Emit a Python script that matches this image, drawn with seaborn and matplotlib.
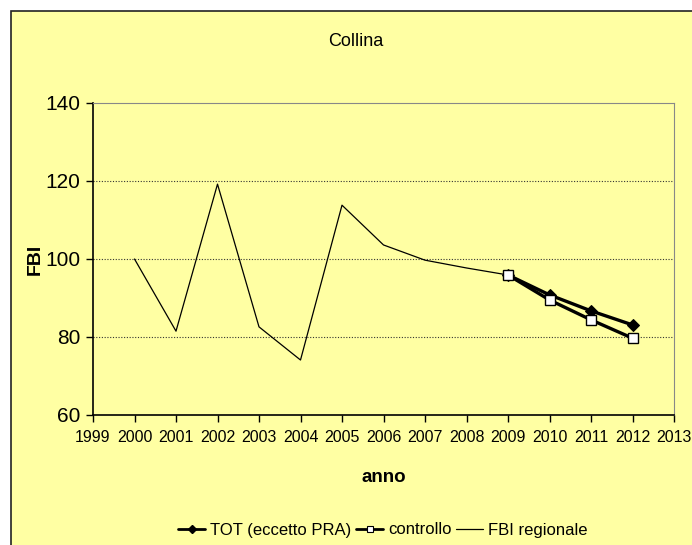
import numpy as np
import pandas as pd
import matplotlib
matplotlib.use('Agg')
import matplotlib.pyplot as plt
import seaborn as sns
from matplotlib.patches import Rectangle
from matplotlib.lines import Line2D
from matplotlib import font_manager

# data
anni_fbi = [2000, 2001, 2002, 2003, 2004, 2005, 2006, 2007, 2008, 2009]
fbi_regionale = [100.0, 81.5, 119.2, 82.6, 74.1, 113.8, 103.6, 99.7, 97.7, 95.9]
anni_tot = [2009, 2010, 2011, 2012]
tot_eccetto_pra = [95.9, 90.8, 86.7, 83.1]
controllo = [95.9, 89.5, 84.4, 79.7]
x_ticks = list(range(1999, 2014))
y_ticks = [60, 80, 100, 120, 140]

sns.set_style('white')
names = {f.name for f in font_manager.fontManager.ttflist}
narrow = 'Liberation Sans Narrow' if 'Liberation Sans Narrow' in names else 'Liberation Sans'
plt.rcParams['font.family'] = [narrow, 'DejaVu Sans']
plt.rcParams['text.color'] = 'black'
plt.rcParams['axes.labelcolor'] = 'black'
plt.rcParams['xtick.color'] = 'black'
plt.rcParams['ytick.color'] = 'black'

bg = '#ffffa3'
fig = plt.figure(figsize=(6.92, 5.45), dpi=100)
fig.patch.set_facecolor('white')
# yellow chart area with dark border, cut at right/bottom like the reference
frame = Rectangle((11 / 692, -0.05), 1.1, 1 - 11 / 545 + 0.05,
                  transform=fig.transFigure, facecolor=bg,
                  edgecolor='#222222', linewidth=1.2, zorder=-10)
fig.add_artist(frame)

ax = fig.add_axes([93 / 692, 1 - 415 / 545, 581 / 692, 312 / 545])
ax.set_zorder(5)
ax.set_facecolor(bg)

df_fbi = pd.DataFrame({'anno': anni_fbi, 'FBI': fbi_regionale})
df_tot = pd.DataFrame({'anno': anni_tot, 'FBI': tot_eccetto_pra})
df_con = pd.DataFrame({'anno': anni_tot, 'FBI': controllo})

sns.lineplot(data=df_fbi, x='anno', y='FBI', ax=ax, color='black', linewidth=0.9)
sns.lineplot(data=df_tot, x='anno', y='FBI', ax=ax, color='black', linewidth=2.4,
             marker='D', markersize=6, markerfacecolor='black', markeredgecolor='black')
sns.lineplot(data=df_con, x='anno', y='FBI', ax=ax, color='black', linewidth=2.4,
             marker='s', markersize=6.5, markerfacecolor='white', markeredgecolor='black',
             markeredgewidth=1)

ax.set_xlim(1999, 2013)
ax.set_ylim(60, 140)
ax.set_xticks(x_ticks)
ax.set_yticks(y_ticks)
ax.set_xticklabels([str(t) for t in x_ticks], fontsize=11.5)
ax.set_yticklabels([str(t) for t in y_ticks], fontsize=15)
ax.tick_params(axis='both', direction='out', length=5, width=1, color='black', pad=4,
               left=True, bottom=True)
ax.tick_params(axis='x', pad=6)

for y in [80, 100, 120]:
    ax.axhline(y, color='#333333', linestyle=(0, (1, 1.5)), linewidth=0.8, zorder=0.5)

ax.spines['left'].set_color('black')
ax.spines['bottom'].set_color('black')
ax.spines['left'].set_linewidth(1.2)
ax.spines['bottom'].set_linewidth(1.2)
ax.spines['top'].set_color('#888888')
ax.spines['right'].set_color('#888888')

ax.set_xlabel('anno', fontsize=13.5, fontweight='bold')
ax.set_ylabel('FBI', fontsize=14, fontweight='bold')
ax.xaxis.set_label_coords(0.5, -(478 - 415) / 312)
ax.yaxis.set_label_coords(-(93 - 44) / 581, 0.5)
ax.xaxis.label.set_va('center')
fig.text(356 / 692, 1 - 42 / 545, 'Collina', fontsize=13, ha='center', va='center')

handles = [
    Line2D([], [], color='black', linewidth=2, marker='D', markersize=4),
    Line2D([], [], color='black', linewidth=2, marker='s', markersize=5,
           markerfacecolor='white', markeredgewidth=0.8),
    Line2D([], [], color='black', linewidth=0.9),
]
fig.legend(handles, ['TOT (eccetto PRA)', 'controllo', 'FBI regionale'],
           loc='center', bbox_to_anchor=(383 / 692, 1 - 530 / 545), ncol=3,
           frameon=False, fontsize=12, handlelength=1.6, handletextpad=0.3,
           columnspacing=0.3)

fig.savefig('out.png', dpi=100, facecolor=fig.get_facecolor())
